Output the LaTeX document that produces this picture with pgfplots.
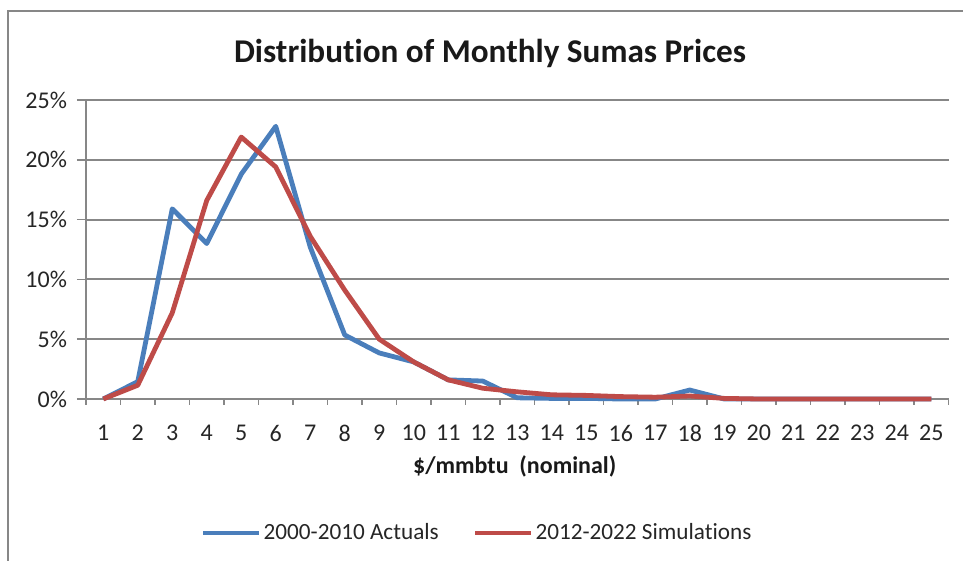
\documentclass[border=0pt]{standalone}
\usepackage{fontspec}
\setmainfont{Carlito}[RawFeature={-liga;-clig;-calt;-dlig}]
\usepackage{pgfplots}
\pgfplotsset{compat=1.18}
\definecolor{ablue}{HTML}{4A7EBB}
\definecolor{ared}{HTML}{BE4B48}
\definecolor{gridgray}{HTML}{878787}
\begin{document}
\begin{tikzpicture}
\useasboundingbox (0pt,0pt) rectangle (481.5pt,280.5pt);
\draw[gridgray, line width=0.8pt] (4pt,-5pt) -- (4pt,275pt) -- (490pt,275pt);
\node[font=\bfseries\fontsize{16.6}{19}\selectfont, text=black!90] at (245pt,254pt) {Distribution of Monthly Sumas Prices};
\begin{axis}[
  at={(43pt,81pt)}, anchor=south west, scale only axis,
  width=431.25pt, height=149.5pt,
  xmin=0.5, xmax=25.5, ymin=0, ymax=25,
  clip=false,
  axis x line*=bottom, axis y line*=left,
  axis line style={gridgray, line width=1pt, -},
  ymajorgrids, grid style={gridgray, line width=1pt},
  tick align=outside,
  ytick={0,5,...,25},
  xtick={1,...,25},
  minor xtick={0.5,1.5,...,25.5},
  major tick length=4.5pt, minor tick length=3pt,
  major x tick style={draw=none},
  every tick/.style={gridgray, line width=0.8pt},
  minor tick style={gridgray, line width=0.8pt},
  /pgf/number format/assume math mode=true,
  ticklabel style={font=\fontsize{12}{14}\selectfont, text=black!85},
  yticklabel={\pgfmathprintnumber{\tick}\%},
  xticklabel style={yshift=-5pt},
  yticklabel style={xshift=-1.5pt},
  xlabel={\textbf{\$/mmbtu\ \ (nominal)}},
  xlabel style={at={(axis description cs:0.497,-0.224)}, anchor=center, font=\fontsize{12}{14}\selectfont, text=black!90},
  legend columns=2,
  legend cell align=left,
  legend style={at={(axis description cs:0.4535,-0.448)}, anchor=center, draw=none, fill=none,
    font=\fontsize{11.6}{14}\selectfont, text=black!85,
    nodes={inner sep=1pt},
    /tikz/every even column/.append style={column sep=16pt}},
  legend image code/.code={\draw[#1] (0pt,0pt) -- (28pt,0pt);},
]
\addplot[ablue, line width=2.4pt, line join=round] coordinates {
(1,0) (2,1.45) (3,15.9) (4,13.0) (5,18.8) (6,22.8) (7,12.7) (8,5.35) (9,3.85) (10,3.1)
(11,1.6) (12,1.5) (13,0.1) (14,0.05) (15,0.05) (16,0) (17,0) (18,0.75) (19,0) (20,0)
(21,0) (22,0) (23,0) (24,0) (25,0)};
\addlegendentry{2000-2010 Actuals}
\addplot[ared, line width=2.4pt, line join=round] coordinates {
(1,0) (2,1.15) (3,7.2) (4,16.6) (5,21.9) (6,19.4) (7,13.6) (8,9.1) (9,5.0) (10,3.1)
(11,1.6) (12,0.9) (13,0.6) (14,0.35) (15,0.3) (16,0.2) (17,0.15) (18,0.25) (19,0.05) (20,0)
(21,0) (22,0) (23,0) (24,0) (25,0)};
\addlegendentry{2012-2022 Simulations}
\end{axis}
\end{tikzpicture}
\end{document}
